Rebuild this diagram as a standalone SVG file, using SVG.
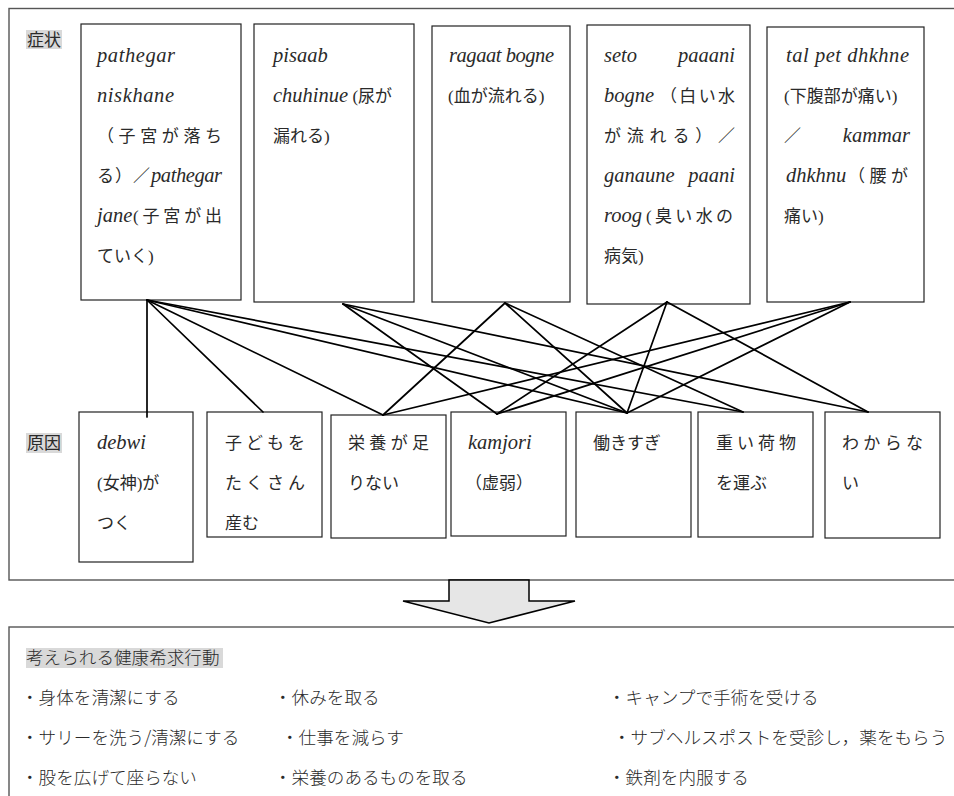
<svg xmlns="http://www.w3.org/2000/svg" width="954" height="796" viewBox="0 0 954 796">
<style>
.frame{fill:none;stroke:#555;stroke-width:1.4}
.box{fill:#fff;stroke:#222;stroke-width:1.2}
.lbl{fill:#d9d9d9}
.t{font-family:"Liberation Serif","Noto Sans CJK JP",serif;font-size:17px;fill:#2a2a2a}
.i{font-family:"Liberation Serif",serif;font-style:italic;font-size:20.5px}
.b{font-family:"Noto Sans CJK JP","Liberation Sans",sans-serif;font-size:17.6px;font-weight:300;fill:#2a2a2a}
.c line{stroke:#000;stroke-width:1.7;stroke-linecap:round}
</style>
<rect width="954" height="796" fill="#fff"/>
<rect class="frame" x="9" y="8.5" width="1000" height="571.5"/>
<rect class="frame" x="9" y="627" width="1000" height="200"/>

<g id="label-symptom"><rect class="lbl" x="26" y="30" width="36" height="19"/><text class="t" x="27" y="45.5">症状</text></g>
<g id="label-cause"><rect class="lbl" x="26" y="433" width="36" height="20"/><text class="t" x="27" y="449">原因</text></g>

<g id="s1"><rect class="box" x="81" y="24" width="160" height="276"/>
<text class="t i" x="97" y="62" textLength="78" lengthAdjust="spacing">pathegar</text>
<text class="t i" x="97" y="102" textLength="77" lengthAdjust="spacing">niskhane</text>
<text class="t" x="97" y="142" textLength="125" lengthAdjust="spacing">（子宮が落ち</text>
<text class="t" x="97" y="182" textLength="53" lengthAdjust="spacing">る）／</text>
<text class="t i" x="151" y="182" textLength="71" lengthAdjust="spacing">pathegar</text>
<text class="t i" x="97" y="222">jane</text>
<text class="t" x="133" y="222" textLength="89" lengthAdjust="spacing">(子宮が出</text>
<text class="t" x="97" y="262">ていく)</text>
</g>
<g id="s2"><rect class="box" x="254" y="24" width="160" height="278"/>
<text class="t i" x="273" y="62">pisaab</text>
<text class="t" x="273" y="102"><tspan class="i">chuhinue</tspan> (尿が</text>
<text class="t" x="273" y="142">漏れる)</text>
</g>
<g id="s3"><rect class="box" x="432" y="26" width="138" height="276"/>
<text class="t i" x="449" y="62" textLength="105" lengthAdjust="spacing">ragaat bogne</text>
<text class="t" x="448" y="102">(血が流れる)</text>
</g>
<g id="s4"><rect class="box" x="587" y="25" width="163" height="279"/>
<text class="t i" x="604" y="62">seto</text>
<text class="t i" x="735" y="62" text-anchor="end">paaani</text>
<text class="t i" x="604" y="102">bogne</text>
<text class="t" x="660" y="102" textLength="75" lengthAdjust="spacing">（白い水</text>
<text class="t" x="604" y="142" textLength="131" lengthAdjust="spacing">が流れる）／</text>
<text class="t i" x="604" y="182">ganaune</text>
<text class="t i" x="735" y="182" text-anchor="end">paani</text>
<text class="t i" x="604" y="222">roog</text>
<text class="t" x="646" y="222" textLength="87" lengthAdjust="spacing">(臭い水の</text>
<text class="t" x="604" y="262">病気)</text>
</g>
<g id="s5"><rect class="box" x="767" y="27" width="157" height="275"/>
<text class="t i" x="786" y="62" textLength="123" lengthAdjust="spacing">tal pet dhkhne</text>
<text class="t" x="784" y="102">(下腹部が痛い)</text>
<text class="t" x="784" y="142">／</text>
<text class="t i" x="910" y="142" text-anchor="end">kammar</text>
<text class="t i" x="786" y="182">dhkhnu</text>
<text class="t" x="848" y="182" textLength="60" lengthAdjust="spacing">（腰が</text>
<text class="t" x="784" y="222">痛い)</text>
</g>

<g id="c1"><rect class="box" x="79" y="412" width="114" height="150"/>
<text class="t i" x="97" y="449">debwi</text>
<text class="t" x="97" y="489">(女神)が</text>
<text class="t" x="97" y="529">つく</text>
</g>
<g id="c2"><rect class="box" x="207" y="412" width="115" height="125"/>
<text class="t" x="225" y="449" textLength="80" lengthAdjust="spacing">子どもを</text>
<text class="t" x="225" y="489" textLength="80" lengthAdjust="spacing">たくさん</text>
<text class="t" x="225" y="529">産む</text>
</g>
<g id="c3"><rect class="box" x="331" y="415" width="115" height="123"/>
<text class="t" x="348" y="449" textLength="81" lengthAdjust="spacing">栄養が足</text>
<text class="t" x="348" y="489">りない</text>
</g>
<g id="c4"><rect class="box" x="451" y="412" width="115" height="124"/>
<text class="t i" x="468" y="449">kamjori</text>
<text class="t" x="465" y="489">（虚弱）</text>
</g>
<g id="c5"><rect class="box" x="576" y="412" width="115" height="125"/>
<text class="t" x="593" y="449">働きすぎ</text>
</g>
<g id="c6"><rect class="box" x="698" y="412" width="115" height="125"/>
<text class="t" x="716" y="449" textLength="80" lengthAdjust="spacing">重い荷物</text>
<text class="t" x="716" y="489">を運ぶ</text>
</g>
<g id="c7"><rect class="box" x="825" y="412" width="115" height="126"/>
<text class="t" x="842" y="449" textLength="81" lengthAdjust="spacing">わからな</text>
<text class="t" x="842" y="489">い</text>
</g>

<g id="connectors" class="c">
<line x1="147" y1="300" x2="147" y2="417"/>
<line x1="147" y1="300" x2="263" y2="412"/>
<line x1="147" y1="300" x2="383" y2="415"/>
<line x1="147" y1="300" x2="627" y2="413"/>
<line x1="147" y1="300" x2="743" y2="412"/>
<line x1="343" y1="304" x2="497" y2="414"/>
<line x1="343" y1="304" x2="627" y2="413"/>
<line x1="343" y1="304" x2="868" y2="412"/>
<line x1="505" y1="303" x2="383" y2="415"/>
<line x1="505" y1="303" x2="627" y2="413"/>
<line x1="505" y1="303" x2="743" y2="412"/>
<line x1="667" y1="302" x2="497" y2="414"/>
<line x1="667" y1="302" x2="627" y2="413"/>
<line x1="667" y1="302" x2="868" y2="412"/>
<line x1="850" y1="302" x2="383" y2="415"/>
<line x1="850" y1="302" x2="497" y2="414"/>
<line x1="850" y1="302" x2="627" y2="413"/>
</g>

<g id="arrow"><polygon points="449,580 529,580 529,601 575,601 489,623 403,601 449,601" fill="#e6e6e6" stroke="#000" stroke-width="1.5" stroke-linejoin="miter"/></g>

<g id="actions">
<rect class="lbl" x="26" y="648" width="197" height="20"/>
<text class="b" x="26" y="664">考えられる健康希求行動</text>
<text class="b" x="21" y="704">・身体を清潔にする</text>
<text class="b" x="21" y="744">・サリーを洗う/清潔にする</text>
<text class="b" x="21" y="784">・股を広げて座らない</text>
<text class="b" x="274" y="704">・休みを取る</text>
<text class="b" x="281" y="744">・仕事を減らす</text>
<text class="b" x="274" y="784">・栄養のあるものを取る</text>
<text class="b" x="608" y="704">・キャンプで手術を受ける</text>
<text class="b" x="613" y="744">・サブヘルスポストを受診し，薬をもらう</text>
<text class="b" x="608" y="784">・鉄剤を内服する</text>
</g>
</svg>
